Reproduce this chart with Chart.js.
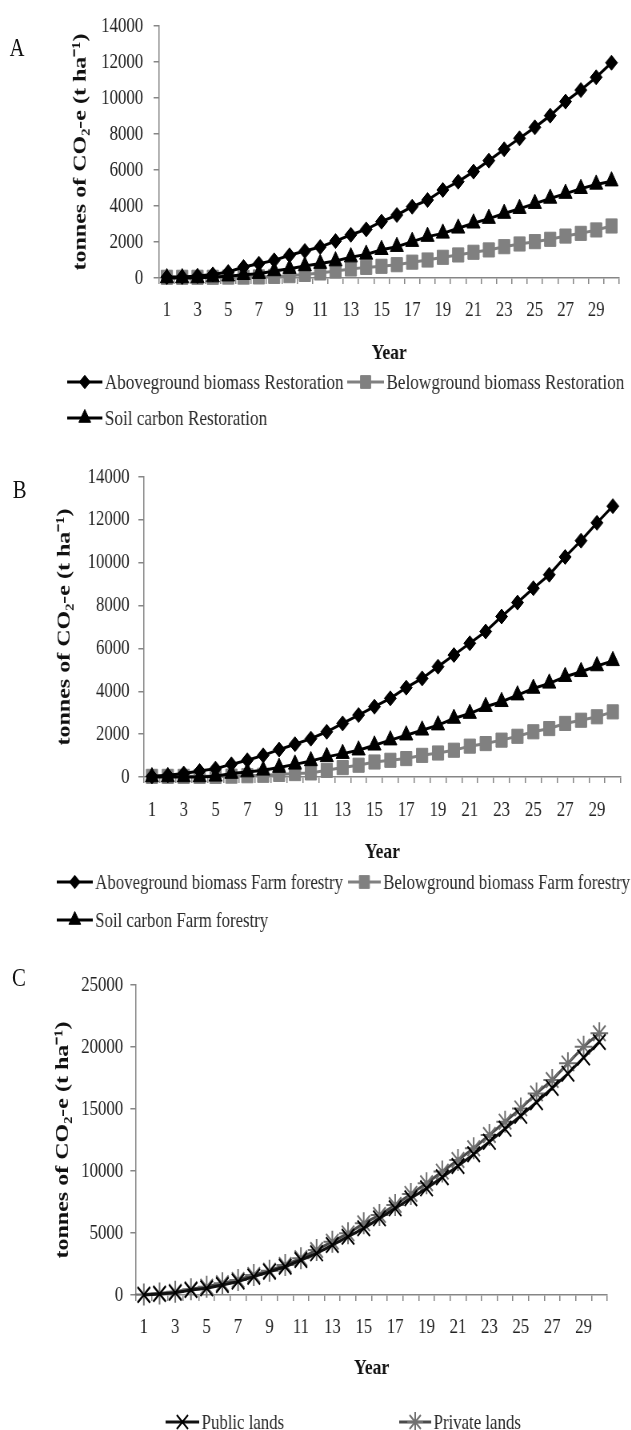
<!DOCTYPE html>
<html>
<head>
<meta charset="utf-8">
<script src="https://cdn.jsdelivr.net/npm/chart.js@4.4.1/dist/chart.umd.min.js"></script>
<style>
  html, body { margin: 0; padding: 0; background: #fff; overflow: hidden; width: 631px; height: 1430px; }
  .panel { position: absolute; left: 0; width: 789px; transform: scaleX(0.8); transform-origin: 0 0; }
  .panel canvas { position: absolute; left: 0; top: 0; }
  .tag { position: absolute; font-family: 'Liberation Serif', 'Times New Roman', serif; font-size: 26px; line-height: 1; color: #111; }
</style>
</head>
<body>
<div class="panel" style="top:0;height:450px">
  <canvas id="chartA" width="789" height="450"></canvas>
  <div class="tag" style="left:12px;top:35px">A</div>
</div>
<div class="panel" style="top:450px;height:490px">
  <canvas id="chartB" width="789" height="490"></canvas>
  <div class="tag" style="left:16px;top:27px">B</div>
</div>
<div class="panel" style="top:940px;height:490px">
  <canvas id="chartC" width="789" height="490"></canvas>
  <div class="tag" style="left:15px;top:25px">C</div>
</div>
<script>
// Years since planting
const years = ['1','2','3','4','5','6','7','8','9','10','11','12','13','14','15',
               '16','17','18','19','20','21','22','23','24','25','26','27','28','29','30'];

// Restoration plantings (t CO2-e per ha)
const aboveRestoration = [50, 60, 110, 200, 330, 610, 795, 980, 1260, 1500, 1720, 2050, 2400, 2700, 3130,
                          3500, 3960, 4330, 4890, 5350, 5910, 6520, 7150, 7760, 8370, 9020, 9800, 10440, 11150, 11960];
const belowRestoration = [40, 40, 40, 40, 50, 50, 60, 90, 130, 200, 280, 390, 500, 590, 650,
                          740, 880, 1000, 1150, 1280, 1430, 1560, 1740, 1890, 2020, 2150, 2330, 2480, 2670, 2890];
const soilRestoration  = [0, 0, 0, 50, 100, 180, 240, 390, 520, 670, 800, 940, 1160, 1310, 1570,
                          1740, 2020, 2300, 2480, 2760, 3040, 3300, 3580, 3850, 4130, 4420, 4690, 4960, 5200, 5380];

// Farm forestry plantings
const aboveFarm = [30, 80, 160, 280, 390, 590, 780, 1010, 1280, 1530, 1790, 2110, 2500, 2890, 3280,
                   3670, 4170, 4600, 5150, 5690, 6240, 6790, 7490, 8140, 8810, 9440, 10270, 11030, 11860, 12640];
const belowFarm = [30, 30, 30, 30, 30, 40, 60, 80, 120, 160, 190, 310, 440, 550, 700,
                   780, 860, 1010, 1120, 1250, 1440, 1560, 1720, 1900, 2110, 2260, 2500, 2650, 2810, 3040];
const soilFarm  = [0, 0, 0, 0, 30, 160, 230, 310, 440, 590, 750, 940, 1090, 1250, 1480,
                   1720, 1950, 2180, 2420, 2730, 2960, 3280, 3510, 3820, 4130, 4370, 4680, 4910, 5180, 5420];

// Totals by land tenure
const publicLands  = [0, 80, 190, 400, 540, 810, 1080, 1480, 1880, 2280, 2820, 3360, 4030, 4700, 5380,
                      6180, 6990, 7800, 8600, 9500, 10400, 11350, 12350, 13400, 14450, 15550, 16700, 17850, 19150, 20400];
const privateLands = [50, 130, 270, 460, 670, 940, 1210, 1610, 1960, 2420, 2960, 3630, 4300, 4970, 5780,
                      6450, 7260, 8150, 9010, 9950, 10890, 11830, 12900, 13980, 15050, 16260, 17340, 18680, 20030, 21100];

// Value-axis ticks
const ticksAB = [0, 2000, 4000, 6000, 8000, 10000, 12000, 14000];
const ticksC  = [0, 5000, 10000, 15000, 20000, 25000];

const SERIF = "'Liberation Serif', 'Times New Roman', serif";
const AXIS = '#868686';
const INK = '#222';
const GREY = '#808080';
const Y_TITLE = 'tonnes of CO\u2082-e (t ha\u207B\u00B9)';

// Series key: line sample with marker, then the series name
const seriesKey = {
  id: 'seriesKey',
  afterDraw(chart, args, opts) {
    const ctx = chart.ctx;
    ctx.save();
    opts.items.forEach((it, i) => {
      const ds = chart.data.datasets[i];
      ctx.strokeStyle = ds.borderColor;
      ctx.lineWidth = ds.borderWidth;
      ctx.beginPath();
      ctx.moveTo(it.x, it.y);
      ctx.lineTo(it.x + it.len, it.y);
      ctx.stroke();
      ctx.fillStyle = ds.pointBackgroundColor;
      ctx.strokeStyle = ds.pointBorderColor;
      ctx.lineWidth = ds.pointBorderWidth;
      Chart.helpers.drawPoint(ctx, {
        pointStyle: ds.pointStyle, rotation: 0,
        radius: ds.pointRadius * 0.9, borderWidth: ds.pointBorderWidth
      }, it.x + it.len / 2, it.y);
      ctx.fillStyle = '#2a2a2a';
      ctx.font = opts.fontSize + 'px ' + SERIF;
      ctx.textBaseline = 'middle';
      ctx.textAlign = 'left';
      ctx.fillText(ds.label, it.x + it.len + 3, it.y + 1);
    });
    ctx.restore();
  }
};

function series(label, values, style, color, lineColor, radius, borderW) {
  return {
    label, data: values,
    borderColor: lineColor, borderWidth: 3, tension: 0, fill: false, clip: false,
    pointStyle: style, pointRadius: radius, pointHoverRadius: radius,
    pointBackgroundColor: color, pointBorderColor: color, pointBorderWidth: borderW
  };
}

function buildPanel(id, datasets, yTicks, g, keyItems, keyFont) {
  const canvas = document.getElementById(id);
  const W = canvas.width, H = canvas.height;
  const tickLh = 21 * 1.2;
  const titleLh = 24 * 1.2;
  return new Chart(canvas, {
    type: 'line',
    data: { labels: years, datasets },
    options: {
      responsive: false, animation: false, devicePixelRatio: 1,
      events: [],
      layout: { autoPadding: false, padding: { left: 0, top: g.top, right: W - g.right, bottom: 0 } },
      plugins: {
        legend: { display: false },
        tooltip: { enabled: false },
        seriesKey: { items: keyItems, fontSize: keyFont }
      },
      scales: {
        x: {
          type: 'category', offset: true,
          grid: { offset: true, drawOnChartArea: false, drawTicks: true, tickLength: 6, color: AXIS, lineWidth: 1.5 },
          border: { display: true, color: AXIS, width: 1.5 },
          ticks: {
            autoSkip: false, maxRotation: 0, minRotation: 0,
            padding: g.labelY - g.bottom - 6 - tickLh / 2,
            color: INK, font: { family: SERIF, size: 21 },
            callback(v, i) { return i % 2 === 0 ? this.getLabelForValue(v) : ''; }
          },
          title: {
            display: true, text: 'Year', color: '#111',
            font: { family: SERIF, size: 22, weight: 'bold' },
            padding: { top: 0, bottom: H - g.yearY - (22 * 1.2) / 2 }
          },
          afterFit(s) { s.height = H - g.bottom; }
        },
        y: {
          min: yTicks[0], max: yTicks[yTicks.length - 1],
          afterBuildTicks(s) { s.ticks = yTicks.map(v => ({ value: v })); },
          grid: { drawOnChartArea: false, drawTicks: true, tickLength: 7, color: AXIS, lineWidth: 1.5 },
          border: { display: true, color: AXIS, width: 1.5 },
          ticks: {
            padding: g.left - 7 - g.labelRight,
            color: INK, font: { family: SERIF, size: 21 },
            callback: v => String(v)
          },
          title: {
            display: true, text: Y_TITLE, color: '#111',
            font: { family: SERIF, size: 24, weight: 'bold' },
            padding: { top: g.titleX - titleLh / 2, bottom: 0 }
          },
          afterFit(s) { s.width = g.left; }
        }
      }
    },
    plugins: [seriesKey]
  });
}

const aboveA = series('Aboveground biomass Restoration', aboveRestoration, 'rectRot', '#000', '#000', 7.5, 1);
aboveA.order = 1;
const belowA = series('Belowground biomass Restoration', belowRestoration, 'rect', GREY, GREY, 10, 1);
belowA.order = 2;
const soilA = series('Soil carbon Restoration', soilRestoration, 'triangle', '#000', '#000', 9.5, 1);
soilA.order = 0;

buildPanel('chartA', [aboveA, belowA, soilA], ticksAB,
  { left: 199, right: 774, top: 26, bottom: 278, labelRight: 179, titleX: 101, labelY: 310, yearY: 353 },
  [ { x: 84, len: 44, y: 382 }, { x: 434, len: 46, y: 382 }, { x: 84, len: 44, y: 418 } ], 21.5);

const aboveB = series('Aboveground biomass Farm forestry', aboveFarm, 'rectRot', '#000', '#000', 7.5, 1);
aboveB.order = 1;
const belowB = series('Belowground biomass Farm forestry', belowFarm, 'rect', GREY, GREY, 10, 1);
belowB.order = 2;
const soilB = series('Soil carbon Farm forestry', soilFarm, 'triangle', '#000', '#000', 9.5, 1);
soilB.order = 0;

buildPanel('chartB', [aboveB, belowB, soilB], ticksAB,
  { left: 180, right: 776, top: 27, bottom: 327, labelRight: 162, titleX: 81, labelY: 360, yearY: 402 },
  [ { x: 71, len: 45, y: 432 }, { x: 435, len: 41, y: 432 }, { x: 71, len: 45, y: 470 } ], 21);

const pubC = series('Public lands', publicLands, 'crossRot', '#000', '#111', 11, 2);
pubC.order = 0;
const privC = series('Private lands', privateLands, 'star', '#707070', '#4a4a4a', 11, 2);
privC.order = 1;

buildPanel('chartC', [pubC, privC], ticksC,
  { left: 170, right: 759, top: 45, bottom: 355, labelRight: 154, titleX: 79, labelY: 387, yearY: 428 },
  [ { x: 207, len: 42, y: 482 }, { x: 499, len: 40, y: 482 } ], 21);
</script>
</body>
</html>
